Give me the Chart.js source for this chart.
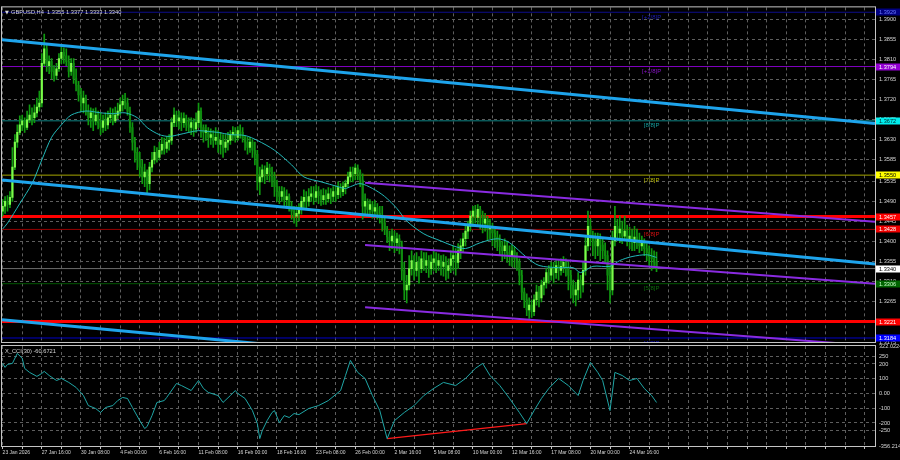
<!DOCTYPE html>
<html lang="en">
<head>
<meta charset="UTF-8">
<title>GBPUSD,H4</title>
<script src="https://cdn.jsdelivr.net/npm/chart.js@4"></script>
<style>
  html, body { margin: 0; padding: 0; background: #000; }
  #wrap { position: relative; width: 900px; height: 460px; }
  #wrap canvas { position: absolute; left: 0; top: 0; }
</style>
</head>
<body>
<div id="wrap">
  <canvas id="priceChart" width="900" height="460"></canvas>
  <canvas id="cciChart" width="900" height="460"></canvas>
</div>
<script>
// ---- H4 candles, bar 0 = 23 Jan 2026 00:00 ----
const opens = [
  1.3469,1.3480,1.3491,1.3484,1.3500,1.3568,1.3624,1.3646,1.3663,1.3672,
  1.3657,1.3674,1.3685,1.3679,1.3690,1.3703,1.3712,1.3801,1.3834,1.3796,
  1.3805,1.3783,1.3774,1.3789,1.3812,1.3826,1.3818,1.3805,1.3783,1.3801,
  1.3767,1.3752,1.3730,1.3712,1.3723,1.3694,1.3679,1.3690,1.3672,1.3685,
  1.3668,1.3657,1.3672,1.3663,1.3679,1.3685,1.3672,1.3685,1.3694,1.3708,
  1.3716,1.3712,1.3694,1.3657,1.3624,1.3601,1.3584,1.3568,1.3546,1.3557,
  1.3531,1.3568,1.3584,1.3601,1.3590,1.3606,1.3619,1.3610,1.3624,1.3628,
  1.3668,1.3685,1.3672,1.3679,1.3668,1.3677,1.3663,1.3657,1.3668,1.3654,
  1.3668,1.3694,1.3657,1.3646,1.3650,1.3635,1.3641,1.3628,1.3635,1.3619,
  1.3628,1.3612,1.3624,1.3628,1.3641,1.3646,1.3635,1.3650,1.3646,1.3633,
  1.3624,1.3612,1.3624,1.3606,1.3597,1.3535,1.3546,1.3562,1.3553,1.3566,
  1.3557,1.3546,1.3524,1.3513,1.3502,1.3513,1.3495,1.3502,1.3480,1.3469,
  1.3458,1.3464,1.3473,1.3491,1.3500,1.3491,1.3502,1.3508,1.3500,1.3513,
  1.3504,1.3495,1.3504,1.3497,1.3508,1.3502,1.3513,1.3506,1.3522,1.3513,
  1.3524,1.3531,1.3546,1.3557,1.3553,1.3566,1.3557,1.3539,1.3480,1.3491,
  1.3473,1.3484,1.3469,1.3477,1.3464,1.3455,1.3442,1.3429,1.3411,1.3402,
  1.3413,1.3398,1.3407,1.3391,1.3336,1.3292,1.3303,1.3340,1.3358,1.3336,
  1.3354,1.3340,1.3362,1.3347,1.3358,1.3340,1.3354,1.3362,1.3347,1.3358,
  1.3345,1.3354,1.3336,1.3347,1.3362,1.3369,1.3354,1.3380,1.3391,1.3407,
  1.3424,1.3435,1.3458,1.3469,1.3455,1.3473,1.3458,1.3442,1.3451,1.3429,
  1.3435,1.3420,1.3411,1.3402,1.3389,1.3380,1.3391,1.3376,1.3367,1.3380,
  1.3362,1.3354,1.3325,1.3287,1.3270,1.3247,1.3258,1.3243,1.3270,1.3287,
  1.3274,1.3303,1.3309,1.3331,1.3325,1.3340,1.3331,1.3347,1.3336,1.3345,
  1.3354,1.3340,1.3325,1.3303,1.3281,1.3292,1.3314,1.3303,1.3336,1.3391,
  1.3435,1.3413,1.3402,1.3391,1.3407,1.3393,1.3380,1.3369,1.3325,1.3292,
  1.3402,1.3435,1.3420,1.3429,1.3413,1.3424,1.3407,1.3413,1.3398,1.3411,
  1.3402,1.3391,1.3398,1.3385,1.3376,1.3367,1.3362,1.3355
];
const highs = [
  1.3495,1.3502,1.3504,1.3513,1.3612,1.3641,1.3663,1.3683,1.3685,1.3679,
  1.3694,1.3708,1.3701,1.3708,1.3723,1.3739,1.3823,1.3867,1.3845,1.3818,
  1.3812,1.3796,1.3801,1.3823,1.3838,1.3836,1.3834,1.3818,1.3812,1.3812,
  1.3789,1.3761,1.3745,1.3739,1.3730,1.3708,1.3701,1.3699,1.3701,1.3694,
  1.3690,1.3685,1.3690,1.3694,1.3701,1.3699,1.3703,1.3712,1.3723,1.3730,
  1.3734,1.3723,1.3703,1.3668,1.3635,1.3612,1.3601,1.3584,1.3575,1.3562,
  1.3579,1.3601,1.3615,1.3612,1.3624,1.3635,1.3633,1.3637,1.3641,1.3679,
  1.3701,1.3694,1.3694,1.3690,1.3690,1.3685,1.3679,1.3679,1.3677,1.3690,
  1.3712,1.3701,1.3663,1.3663,1.3657,1.3654,1.3650,1.3657,1.3650,1.3646,
  1.3641,1.3641,1.3646,1.3650,1.3659,1.3657,1.3659,1.3663,1.3657,1.3639,
  1.3635,1.3635,1.3630,1.3624,1.3606,1.3568,1.3573,1.3571,1.3579,1.3575,
  1.3568,1.3557,1.3539,1.3524,1.3524,1.3522,1.3517,1.3508,1.3491,1.3480,
  1.3480,1.3486,1.3502,1.3517,1.3513,1.3520,1.3524,1.3524,1.3528,1.3524,
  1.3517,1.3520,1.3517,1.3522,1.3520,1.3524,1.3526,1.3535,1.3531,1.3535,
  1.3539,1.3557,1.3568,1.3568,1.3575,1.3573,1.3562,1.3553,1.3508,1.3497,
  1.3495,1.3491,1.3493,1.3486,1.3480,1.3480,1.3458,1.3435,1.3424,1.3429,
  1.3424,1.3420,1.3416,1.3402,1.3354,1.3325,1.3369,1.3380,1.3369,1.3376,
  1.3367,1.3380,1.3376,1.3376,1.3369,1.3371,1.3380,1.3376,1.3373,1.3369,
  1.3371,1.3367,1.3362,1.3380,1.3391,1.3385,1.3396,1.3407,1.3420,1.3435,
  1.3447,1.3469,1.3480,1.3482,1.3484,1.3480,1.3469,1.3464,1.3458,1.3451,
  1.3442,1.3429,1.3424,1.3416,1.3402,1.3407,1.3402,1.3391,1.3393,1.3389,
  1.3376,1.3362,1.3336,1.3296,1.3283,1.3274,1.3270,1.3281,1.3303,1.3300,
  1.3314,1.3320,1.3340,1.3347,1.3354,1.3354,1.3358,1.3358,1.3362,1.3367,
  1.3362,1.3358,1.3336,1.3314,1.3309,1.3331,1.3325,1.3354,1.3413,1.3469,
  1.3451,1.3424,1.3420,1.3420,1.3418,1.3407,1.3398,1.3380,1.3347,1.3424,
  1.3480,1.3451,1.3458,1.3447,1.3458,1.3438,1.3433,1.3429,1.3435,1.3429,
  1.3420,1.3413,1.3407,1.3396,1.3391,1.3385,1.3380,1.3377
];
const lows = [
  1.3458,1.3464,1.3469,1.3477,1.3491,1.3562,1.3612,1.3641,1.3650,1.3646,
  1.3652,1.3668,1.3663,1.3668,1.3681,1.3694,1.3703,1.3796,1.3783,1.3778,
  1.3767,1.3761,1.3765,1.3783,1.3801,1.3801,1.3796,1.3770,1.3774,1.3756,
  1.3739,1.3716,1.3694,1.3690,1.3685,1.3663,1.3657,1.3650,1.3663,1.3654,
  1.3641,1.3646,1.3650,1.3654,1.3668,1.3663,1.3668,1.3677,1.3685,1.3694,
  1.3699,1.3685,1.3646,1.3606,1.3579,1.3562,1.3546,1.3531,1.3524,1.3508,
  1.3517,1.3557,1.3575,1.3579,1.3584,1.3597,1.3597,1.3601,1.3606,1.3619,
  1.3659,1.3659,1.3654,1.3650,1.3657,1.3650,1.3646,1.3641,1.3637,1.3646,
  1.3657,1.3635,1.3624,1.3628,1.3612,1.3619,1.3612,1.3619,1.3601,1.3597,
  1.3590,1.3601,1.3606,1.3619,1.3628,1.3624,1.3628,1.3633,1.3624,1.3606,
  1.3597,1.3601,1.3590,1.3573,1.3517,1.3506,1.3535,1.3531,1.3539,1.3535,
  1.3524,1.3502,1.3491,1.3486,1.3491,1.3480,1.3475,1.3469,1.3451,1.3442,
  1.3435,1.3447,1.3462,1.3477,1.3473,1.3480,1.3491,1.3484,1.3491,1.3486,
  1.3482,1.3484,1.3484,1.3489,1.3486,1.3491,1.3491,1.3497,1.3500,1.3504,
  1.3508,1.3522,1.3535,1.3535,1.3539,1.3539,1.3524,1.3451,1.3458,1.3458,
  1.3460,1.3453,1.3458,1.3451,1.3442,1.3424,1.3416,1.3398,1.3380,1.3385,
  1.3376,1.3380,1.3373,1.3314,1.3270,1.3263,1.3292,1.3325,1.3314,1.3323,
  1.3307,1.3331,1.3336,1.3331,1.3320,1.3327,1.3336,1.3331,1.3336,1.3325,
  1.3323,1.3314,1.3318,1.3331,1.3336,1.3325,1.3340,1.3362,1.3376,1.3391,
  1.3407,1.3424,1.3435,1.3442,1.3435,1.3429,1.3420,1.3424,1.3402,1.3407,
  1.3391,1.3387,1.3380,1.3369,1.3358,1.3362,1.3354,1.3347,1.3345,1.3342,
  1.3336,1.3303,1.3270,1.3252,1.3234,1.3228,1.3230,1.3234,1.3258,1.3254,
  1.3265,1.3281,1.3296,1.3307,1.3314,1.3309,1.3318,1.3314,1.3325,1.3331,
  1.3323,1.3292,1.3274,1.3263,1.3256,1.3270,1.3274,1.3287,1.3325,1.3380,
  1.3391,1.3369,1.3362,1.3369,1.3358,1.3362,1.3354,1.3292,1.3263,1.3281,
  1.3391,1.3402,1.3398,1.3396,1.3402,1.3391,1.3385,1.3380,1.3380,1.3385,
  1.3376,1.3380,1.3369,1.3358,1.3347,1.3336,1.3340,1.3333
];
const closes = [
  1.3480,1.3491,1.3484,1.3500,1.3568,1.3624,1.3646,1.3663,1.3672,1.3657,
  1.3674,1.3685,1.3679,1.3690,1.3703,1.3712,1.3801,1.3834,1.3796,1.3805,
  1.3783,1.3774,1.3789,1.3812,1.3826,1.3818,1.3805,1.3783,1.3801,1.3767,
  1.3752,1.3730,1.3712,1.3723,1.3694,1.3679,1.3690,1.3672,1.3685,1.3668,
  1.3657,1.3672,1.3663,1.3679,1.3685,1.3672,1.3685,1.3694,1.3708,1.3716,
  1.3712,1.3694,1.3657,1.3624,1.3601,1.3584,1.3568,1.3546,1.3557,1.3531,
  1.3568,1.3584,1.3601,1.3590,1.3606,1.3619,1.3610,1.3624,1.3628,1.3668,
  1.3685,1.3672,1.3679,1.3668,1.3677,1.3663,1.3657,1.3668,1.3654,1.3668,
  1.3694,1.3657,1.3646,1.3650,1.3635,1.3641,1.3628,1.3635,1.3619,1.3628,
  1.3612,1.3624,1.3628,1.3641,1.3646,1.3635,1.3650,1.3646,1.3633,1.3624,
  1.3612,1.3624,1.3606,1.3597,1.3535,1.3546,1.3562,1.3553,1.3566,1.3557,
  1.3546,1.3524,1.3513,1.3502,1.3513,1.3495,1.3502,1.3480,1.3469,1.3458,
  1.3464,1.3473,1.3491,1.3500,1.3491,1.3502,1.3508,1.3500,1.3513,1.3504,
  1.3495,1.3504,1.3497,1.3508,1.3502,1.3513,1.3506,1.3522,1.3513,1.3524,
  1.3531,1.3546,1.3557,1.3553,1.3566,1.3557,1.3539,1.3480,1.3491,1.3473,
  1.3484,1.3469,1.3477,1.3464,1.3455,1.3442,1.3429,1.3411,1.3402,1.3413,
  1.3398,1.3407,1.3391,1.3336,1.3292,1.3303,1.3340,1.3358,1.3336,1.3354,
  1.3340,1.3362,1.3347,1.3358,1.3340,1.3354,1.3362,1.3347,1.3358,1.3345,
  1.3354,1.3336,1.3347,1.3362,1.3369,1.3354,1.3380,1.3391,1.3407,1.3424,
  1.3435,1.3458,1.3469,1.3455,1.3473,1.3458,1.3442,1.3451,1.3429,1.3435,
  1.3420,1.3411,1.3402,1.3389,1.3380,1.3391,1.3376,1.3367,1.3380,1.3362,
  1.3354,1.3325,1.3287,1.3270,1.3247,1.3258,1.3243,1.3270,1.3287,1.3274,
  1.3303,1.3309,1.3331,1.3325,1.3340,1.3331,1.3347,1.3336,1.3345,1.3354,
  1.3340,1.3325,1.3303,1.3281,1.3292,1.3314,1.3303,1.3336,1.3391,1.3435,
  1.3413,1.3402,1.3391,1.3407,1.3393,1.3380,1.3369,1.3325,1.3292,1.3402,
  1.3435,1.3420,1.3429,1.3413,1.3424,1.3407,1.3413,1.3398,1.3411,1.3402,
  1.3391,1.3398,1.3385,1.3376,1.3367,1.3362,1.3355,1.3340
];

// moving average (bar index, price)
const maBars = [0,2,7,12,16,20,24,28,34,40,45,50,55,59,64,68,72,76,80,84,88,93,99,104,111,118,123,130,137,140,142,146,151,156,161,165,172,179,184,189,195,202,207,214,219,227,233,236,241,248,252,257,263,267];
const maVals = [1.3429,1.3442,1.3486,1.3531,1.3584,1.3635,1.3663,1.3685,1.3694,1.3690,1.3688,1.3690,1.3679,1.3657,1.3641,1.3637,1.3641,1.3646,1.3650,1.3648,1.3646,1.3641,1.3639,1.3628,1.3606,1.3573,1.3546,1.3535,1.3524,1.3520,1.3524,1.3531,1.3520,1.3502,1.3475,1.3447,1.3418,1.3402,1.3391,1.3385,1.3398,1.3407,1.3398,1.3365,1.3347,1.3342,1.3342,1.3331,1.3345,1.3345,1.3358,1.3367,1.3371,1.3365];

// X_CCI(30) (bar index, value)
const cciBars = [0,1,2,4,6,8,9,11,14,16,17,19,22,24,27,30,33,35,38,40,42,45,47,49,51,53,56,58,59,61,63,66,67,71,73,77,80,82,84,88,90,93,95,96,99,102,104,105,106,108,110,111,113,115,117,119,121,125,129,133,138,140,142,145,148,151,154,157,160,164,168,172,176,180,185,189,193,196,199,203,207,211,214,217,220,223,227,231,235,237,240,243,245,248,250,253,256,259,262,265,267];
const cciVals = [204,177,197,204,272,238,170,143,116,136,150,122,88,102,75,41,-14,-82,-102,-129,-95,-82,-48,-27,-34,-95,-184,-238,-224,-150,-61,-48,-27,68,54,20,88,34,7,-14,-61,-14,20,0,-34,-116,-204,-306,-252,-184,-129,-116,-197,-150,-163,-136,-143,-102,-82,-48,20,122,224,143,102,-14,-116,-306,-184,-129,-82,-14,34,75,54,102,170,204,122,54,-34,-129,-204,-116,-34,34,102,54,-14,88,211,143,88,-116,143,122,88,102,34,-14,-61];

// time axis labels, one every 16 bars
const timeLabels = ['23 Jan 2026','27 Jan 16:00','30 Jan 08:00','4 Feb 00:00','6 Feb 16:00','11 Feb 08:00','16 Feb 00:00','18 Feb 16:00','23 Feb 08:00','26 Feb 00:00','2 Mar 16:00','5 Mar 08:00','10 Mar 00:00','12 Mar 16:00','17 Mar 08:00','20 Mar 00:00','24 Mar 16:00'];
const priceTicks = [1.3900,1.3855,1.3810,1.3765,1.3720,1.3675,1.3630,1.3585,1.3535,1.3490,1.3445,1.3400,1.3355,1.3310,1.3265,1.3220,1.3175];
const cciTicks = [322.0224,250,200,100,0,-100,-200,-250,-356.214];
const cciTickLabels = ['322.0224','250','200','100','0.00','-100','-200','-250','-356.214'];

// horizontal levels (Murray lines, S/R, bid)
const levelValues = [1.3916,1.3794,1.3672,1.3550,1.3457,1.3428,1.3340,1.3306,1.3221,1.3184];
const levelTags   = ['1.3929','1.3794','1.3672','1.3550','1.3457','1.3428','1.3340','1.3306','1.3221','1.3184'];
const murrayNames = ['[+2/8]P','[+1/8]P','[8/8]P','[7/8]P','','[6/8]P','','[5/8]P','','[4/8]P'];

// trend lines: price at left edge / right edge
const trendFrom = [1.3854,1.3539,1.3225];
const trendTo   = [1.3666,1.3350,1.3043];
// price channel, starts at bar 148
const channelFrom = [1.3533,1.3393,1.3253];
const channelTo   = [1.3445,1.3306,1.3166];
const channelStartBar = 148;
// divergence line on the CCI
const divBars = [157,214];
const divVals = [-306,-204];

const title = 'GBPUSD,H4  1.3355 1.3377 1.3333 1.3340';
const cciTitle = 'X_CCI(30) -60.6721';

// ---- styling ----
const X_MIN = -0.25, X_MAX = 356.2;
const GRID = '#5e5e5e';
const FRAME = '#c4c4c4';
const TXT = '#d6d6d6';
const FONT = '"Liberation Sans", Arial, sans-serif';
const levelStyles = [
  { line:'#0c0c8a', w:1, text:'#1c1cb4', tagBg:'#000080', tagText:'#6a78ff' },
  { line:'#8200c4', w:1, text:'#8c14cc', tagBg:'#9400d3', tagText:'#ffffff' },
  { line:'#0f8282', w:1, text:'#139c9c', tagBg:'#00eeee', tagText:'#002828' },
  { line:'#a6a600', w:1, text:'#b4b400', tagBg:'#ffff00', tagText:'#000000' },
  { line:'#ff0000', w:3, text:'#ff0000', tagBg:'#ff0000', tagText:'#ffffff' },
  { line:'#960000', w:1, text:'#d41010', tagBg:'#ee0000', tagText:'#ffffff' },
  { line:'#6a6a6a', w:1, text:'#6a6a6a', tagBg:'#ffffff', tagText:'#000000' },
  { line:'#005800', w:1, text:'#0b6a0b', tagBg:'#006400', tagText:'#c8ffc8' },
  { line:'#ff0000', w:3, text:'#ff0000', tagBg:'#ff0000', tagText:'#ffffff' },
  { line:'#0000c8', w:1, text:'#1212d0', tagBg:'#0000ff', tagText:'#ffffff' }
];
const murrayBar = 265;

const gridBars = [];
for (let b = 0; b <= X_MAX; b += 8) gridBars.push(b);

const bars = closes.map((c, i) => i);

const datasets = [];
// horizontal levels (drawn first / underneath)
levelValues.forEach((v, i) => {
  datasets.push({
    type: 'line', order: 6,
    data: [{ x: X_MIN, y: v }, { x: X_MAX, y: v }],
    borderColor: levelStyles[i].line, borderWidth: levelStyles[i].w,
    pointRadius: 0
  });
});
datasets.push({
  type: 'bar', order: 4, grouped: false, barThickness: 1,
  data: bars.map(i => ({ x: i, y: [lows[i], highs[i]] })),
  backgroundColor: '#109a10'
});
datasets.push({
  type: 'bar', order: 3, grouped: false, barThickness: 1.5, minBarLength: 1,
  data: bars.map(i => ({ x: i, y: [opens[i], closes[i]] })),
  backgroundColor: bars.map(i => closes[i] >= opens[i] ? '#7cfc4a' : '#0f8c0f')
});
datasets.push({
  type: 'line', order: 2,
  data: maBars.map((b, i) => ({ x: b, y: maVals[i] })),
  borderColor: '#22b8b8', borderWidth: 1, pointRadius: 0, tension: 0.3
});
trendFrom.forEach((v, i) => {
  datasets.push({
    type: 'line', order: 1,
    data: [{ x: X_MIN, y: v }, { x: X_MAX, y: trendTo[i] }],
    borderColor: '#1ea4ec', borderWidth: 3, pointRadius: 0
  });
});
channelFrom.forEach((v, i) => {
  datasets.push({
    type: 'line', order: 1,
    data: [{ x: channelStartBar, y: v }, { x: X_MAX, y: channelTo[i] }],
    borderColor: '#8a2be2', borderWidth: 2, pointRadius: 0
  });
});

const priceDecor = {
  id: 'priceDecor',
  afterDraw(chart) {
    const { ctx, chartArea: a, scales: { x, y } } = chart;
    ctx.save();
    // murray names under their lines
    ctx.save();
    ctx.beginPath();
    ctx.rect(a.left, a.top, a.right - a.left, a.bottom - a.top);
    ctx.clip();
    ctx.font = '6px ' + FONT;
    ctx.textAlign = 'center';
    ctx.textBaseline = 'middle';
    levelValues.forEach((v, i) => {
      if (!murrayNames[i]) return;
      ctx.fillStyle = levelStyles[i].text;
      ctx.fillText(murrayNames[i], x.getPixelForValue(murrayBar), y.getPixelForValue(v) + 5);
    });
    ctx.restore();
    // frame
    ctx.strokeStyle = FRAME;
    ctx.lineWidth = 1;
    ctx.strokeRect(a.left - 0.5, a.top - 0.5, a.right - a.left + 1, a.bottom - a.top + 1);
    // price tags on the right scale
    ctx.font = '5.6px ' + FONT;
    ctx.textAlign = 'left';
    ctx.textBaseline = 'middle';
    levelValues.forEach((v, i) => {
      const py = Math.round(y.getPixelForValue(v));
      ctx.fillStyle = levelStyles[i].tagBg;
      ctx.fillRect(a.right + 1, py - 3.5, chart.width - a.right, 7);
      ctx.fillStyle = levelStyles[i].tagText;
      ctx.fillText(levelTags[i], a.right + 4, py + 0.5);
    });
    // title
    ctx.fillStyle = TXT;
    ctx.font = '5px "DejaVu Sans", sans-serif';
    ctx.fillText('\u25BC', a.left + 3, a.top + 5);
    ctx.font = '5.7px ' + FONT;
    ctx.fillText(title, a.left + 9, a.top + 5);
    ctx.restore();
  }
};

new Chart(document.getElementById('priceChart'), {
  type: 'bar',
  data: { datasets },
  options: {
    responsive: false, animation: false, events: [],
    layout: { padding: { left: 2, top: 2, right: 0, bottom: 118 } },
    plugins: { legend: { display: false }, tooltip: { enabled: false } },
    scales: {
      x: {
        type: 'linear', min: X_MIN, max: X_MAX, offset: false,
        afterBuildTicks: s => { s.ticks = gridBars.map(v => ({ value: v })); },
        ticks: { display: false },
        grid: { color: GRID, drawTicks: false, offset: false },
        border: { display: false, dash: [3, 3] },
        afterFit: s => { s.height = 0; }
      },
      y: {
        position: 'right', min: 1.3175, max: 1.3927,
        afterBuildTicks: s => { s.ticks = priceTicks.map(v => ({ value: v })); },
        ticks: { color: TXT, font: { family: FONT, size: 5.6 }, padding: 4, autoSkip: false,
                 callback: v => v.toFixed(4) },
        grid: { color: GRID, drawTicks: false },
        border: { display: false, dash: [3, 3] },
        afterFit: s => { s.width = 25; }
      }
    }
  },
  plugins: [priceDecor]
});

const cciDecor = {
  id: 'cciDecor',
  afterDraw(chart) {
    const { ctx, chartArea: a } = chart;
    ctx.save();
    ctx.strokeStyle = FRAME;
    ctx.lineWidth = 1;
    ctx.strokeRect(a.left - 0.5, a.top - 0.5, a.right - a.left + 1, a.bottom - a.top + 1);
    ctx.fillStyle = TXT;
    ctx.font = '5.7px ' + FONT;
    ctx.textBaseline = 'middle';
    ctx.fillText(cciTitle, a.left + 3, a.top + 5);
    ctx.restore();
  }
};

new Chart(document.getElementById('cciChart'), {
  type: 'line',
  data: {
    datasets: [
      { data: cciBars.map((b, i) => ({ x: b, y: cciVals[i] })),
        borderColor: '#1fa6a6', borderWidth: 1, pointRadius: 0, tension: 0 },
      { data: divBars.map((b, i) => ({ x: b, y: divVals[i] })),
        borderColor: '#ff1a1a', borderWidth: 1.3, pointRadius: 0 }
    ]
  },
  options: {
    responsive: false, animation: false, events: [],
    layout: { padding: { left: 2, top: 346, right: 0, bottom: 0 } },
    plugins: { legend: { display: false }, tooltip: { enabled: false } },
    scales: {
      x: {
        type: 'linear', min: X_MIN, max: X_MAX,
        afterBuildTicks: s => { s.ticks = gridBars.map(v => ({ value: v })); },
        ticks: {
          color: TXT, font: { family: FONT, size: 5 }, align: 'start', padding: 1,
          maxRotation: 0, autoSkip: false,
          callback: v => (v % 16 === 0 && v / 16 < timeLabels.length) ? timeLabels[v / 16] : ''
        },
        grid: { color: GRID, tickLength: 3, tickColor: FRAME },
        border: { display: false, dash: [3, 3] },
        afterFit: s => { s.height = 14; }
      },
      y: {
        position: 'right', min: -356.214, max: 322.0224,
        afterBuildTicks: s => { s.ticks = cciTicks.map(v => ({ value: v })); },
        ticks: { color: TXT, font: { family: FONT, size: 5.6 }, padding: 4, autoSkip: false,
                 callback: (v, i) => cciTickLabels[i] },
        grid: { color: c => (c.index === 0 || c.index === cciTicks.length - 1) ? 'transparent' : GRID,
                drawTicks: false },
        border: { display: false, dash: [3, 3] },
        afterFit: s => { s.width = 25; }
      }
    }
  },
  plugins: [cciDecor]
});
</script>
</body>
</html>
